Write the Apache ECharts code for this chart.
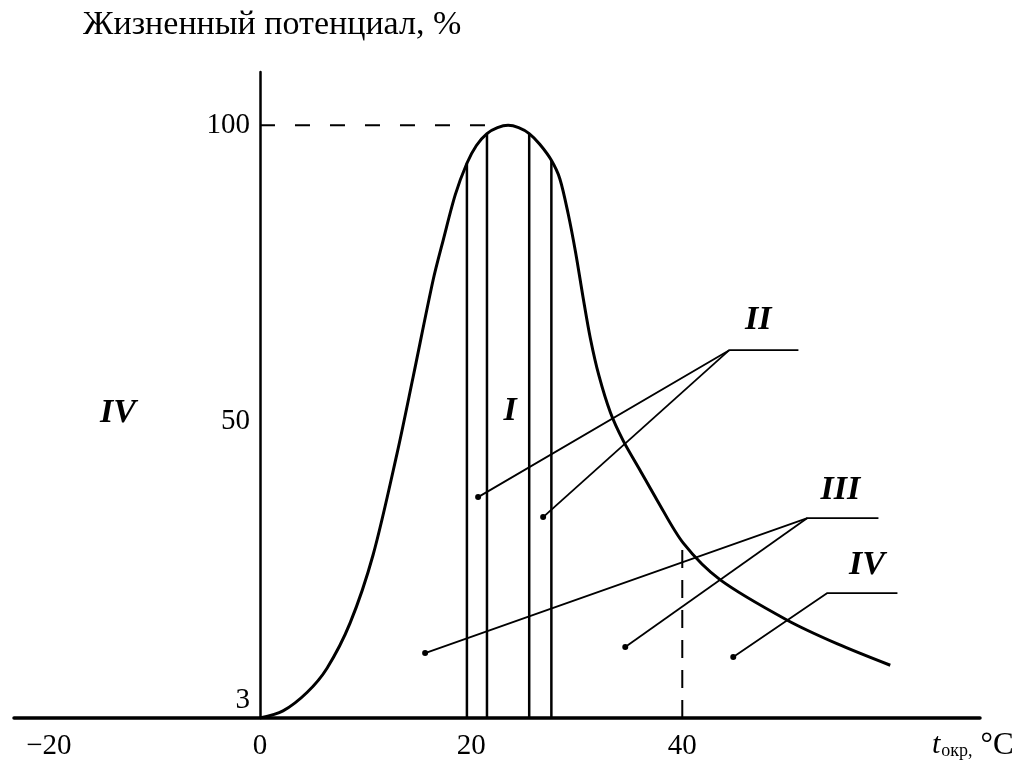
<!DOCTYPE html>
<html>
<head>
<meta charset="utf-8">
<script src="https://cdn.jsdelivr.net/npm/echarts@6/dist/echarts.min.js"></script>
<style>html,body{margin:0;padding:0;background:#fff}#c{width:1023px;height:767px}</style>
</head>
<body>
<div id="c"></div>
<script>
// Curve: life potential (%) vs ambient temperature (°C)
const curveX = [0, 2.18, 4.45, 6.35, 8.53, 10.71, 12.99, 14.5, 16.4, 17.35, 18.5, 19.6, 20.5, 21.5, 22.5, 23.5, 24.5, 25.5, 26.5, 27.6, 28.4, 29.2, 29.9, 30.6, 31.3, 32.1, 33.2, 34.4, 36.0, 37.6, 40.1, 43.6, 49.95, 54.7, 59.7];
const curveY = [0, 1.2, 4.3, 8.4, 16.0, 27.5, 44.7, 57.5, 73.9, 80.6, 88.3, 93.6, 96.6, 98.6, 99.6, 100, 99.6, 98.6, 96.8, 94.1, 91, 85, 78.5, 71, 64, 57.8, 51.5, 46.8, 41.8, 36.8, 29.5, 23.3, 16.5, 12.5, 8.9];

// Vertical zone boundaries under the curve
const bandX = [19.6, 21.5, 25.5, 27.6];
const bandTop = [93.6, 98.6, 98.6, 94.1];

// Axis tick labels
const xTicks = [-20, 0, 20, 40];
const yTicks = [3, 50, 100];

// Dashed reference lines
const ref100X = [0, 22];
const ref100Y = [100, 100];
const ref40X = [40, 40];
const ref40Y = [0, 29.5];

// Leader lines: [dot, corner, end]
const leaderII_a = [[20.66, 37.27], [44.45, 62.06], [51.0, 62.06]];
const leaderII_b = [[26.82, 33.9], [44.45, 62.06]];
const leaderIII_a = [[15.64, 10.96], [51.85, 33.73], [58.58, 33.73]];
const leaderIII_b = [[34.6, 11.97], [51.85, 33.73]];
const leaderIV = [[44.83, 10.29], [53.74, 21.08], [60.38, 21.08]];

// Zone labels
const zoneText = ['IV', 'I', 'II', 'III', 'IV'];
const zoneX = [-13.46, 23.7, 47.2, 54.98, 57.5];
const zoneY = [51.43, 51.77, 67.1, 38.45, 25.8];

const SERIF = '"Liberation Serif","DejaVu Serif",serif';
const chart = echarts.init(document.getElementById('c'));

const lineS = (data, w, type) => ({
  type: 'line', data: data, symbol: 'none', silent: true,
  lineStyle: { color: '#000', width: w, type: type || 'solid' }
});

const leaders = [leaderII_a, leaderII_b, leaderIII_a, leaderIII_b, leaderIV];
const dots = leaders.map(l => l[0]);

const series = [];
series.push(Object.assign(lineS(curveX.map((x, i) => [x, curveY[i]]), 3), { smooth: 0.3 }));
bandX.forEach((x, i) => series.push(lineS([[x, 0], [x, bandTop[i]]], 2.5)));
series.push(lineS(ref100X.map((x, i) => [x, ref100Y[i]]), 2, [15, 20]));
series.push(lineS(ref40X.map((x, i) => [x, ref40Y[i]]), 2, [18, 12]));
leaders.forEach(l => series.push(lineS(l, 1.8)));
series.push({ type: 'scatter', data: dots, symbol: 'circle', symbolSize: 6, itemStyle: { color: '#000', opacity: 1 }, silent: true });
series.push({
  type: 'scatter', symbolSize: 0, silent: true,
  itemStyle: { opacity: 1, color: '#000' },
  data: zoneX.map((x, i) => [x, zoneY[i], zoneText[i]]),
  label: {
    show: true, position: 'inside', formatter: p => p.value[2], opacity: 1,
    fontFamily: SERIF, fontStyle: 'italic', fontWeight: 'bold', fontSize: 34, color: '#000',
    textBorderWidth: 0
  }
});

chart.setOption({
  animation: false,
  backgroundColor: '#fff',
  title: {
    text: 'Жизненный потенциал, %', left: 78, top: 3,
    textStyle: { fontFamily: SERIF, fontWeight: 'normal', fontSize: 34, color: '#000' }
  },
  grid: { left: 14, right: 43, top: 72, bottom: 49, containLabel: false, outerBoundsMode: 'none' },
  xAxis: {
    type: 'value', min: -23.3, max: 68.2,
    splitLine: { show: false },
    axisLine: { lineStyle: { color: '#000', width: 3.5 } },
    axisTick: { show: false },
    axisLabel: { customValues: xTicks, formatter: v => (v < 0 ? '\u2212' + (-v) : String(v)), fontFamily: SERIF, fontSize: 29, color: '#000', margin: 14 },
    name: '{t|t}{s|окр,}{c|°C}',
    nameLocation: 'end', nameGap: -48,
    nameTextStyle: {
      verticalAlign: 'top', padding: [12, 0, 0, 0],
      rich: {
        t: { fontFamily: SERIF, fontStyle: 'italic', fontSize: 30, color: '#000' },
        s: { fontFamily: SERIF, fontSize: 18, color: '#000', padding: [12, 0, 0, 1] },
        c: { fontFamily: SERIF, fontSize: 31, color: '#000', padding: [0, 0, 0, 8] }
      }
    }
  },
  yAxis: {
    type: 'value', min: 0, max: 109, position: 'left', offset: -246,
    splitLine: { show: false },
    axisLine: { onZero: false, lineStyle: { color: '#000', width: 2.5 } },
    axisTick: { show: false },
    axisLabel: { customValues: yTicks, fontFamily: SERIF, fontSize: 29, color: '#000', margin: 10 }
  },
  series: series
});
</script>
</body>
</html>
